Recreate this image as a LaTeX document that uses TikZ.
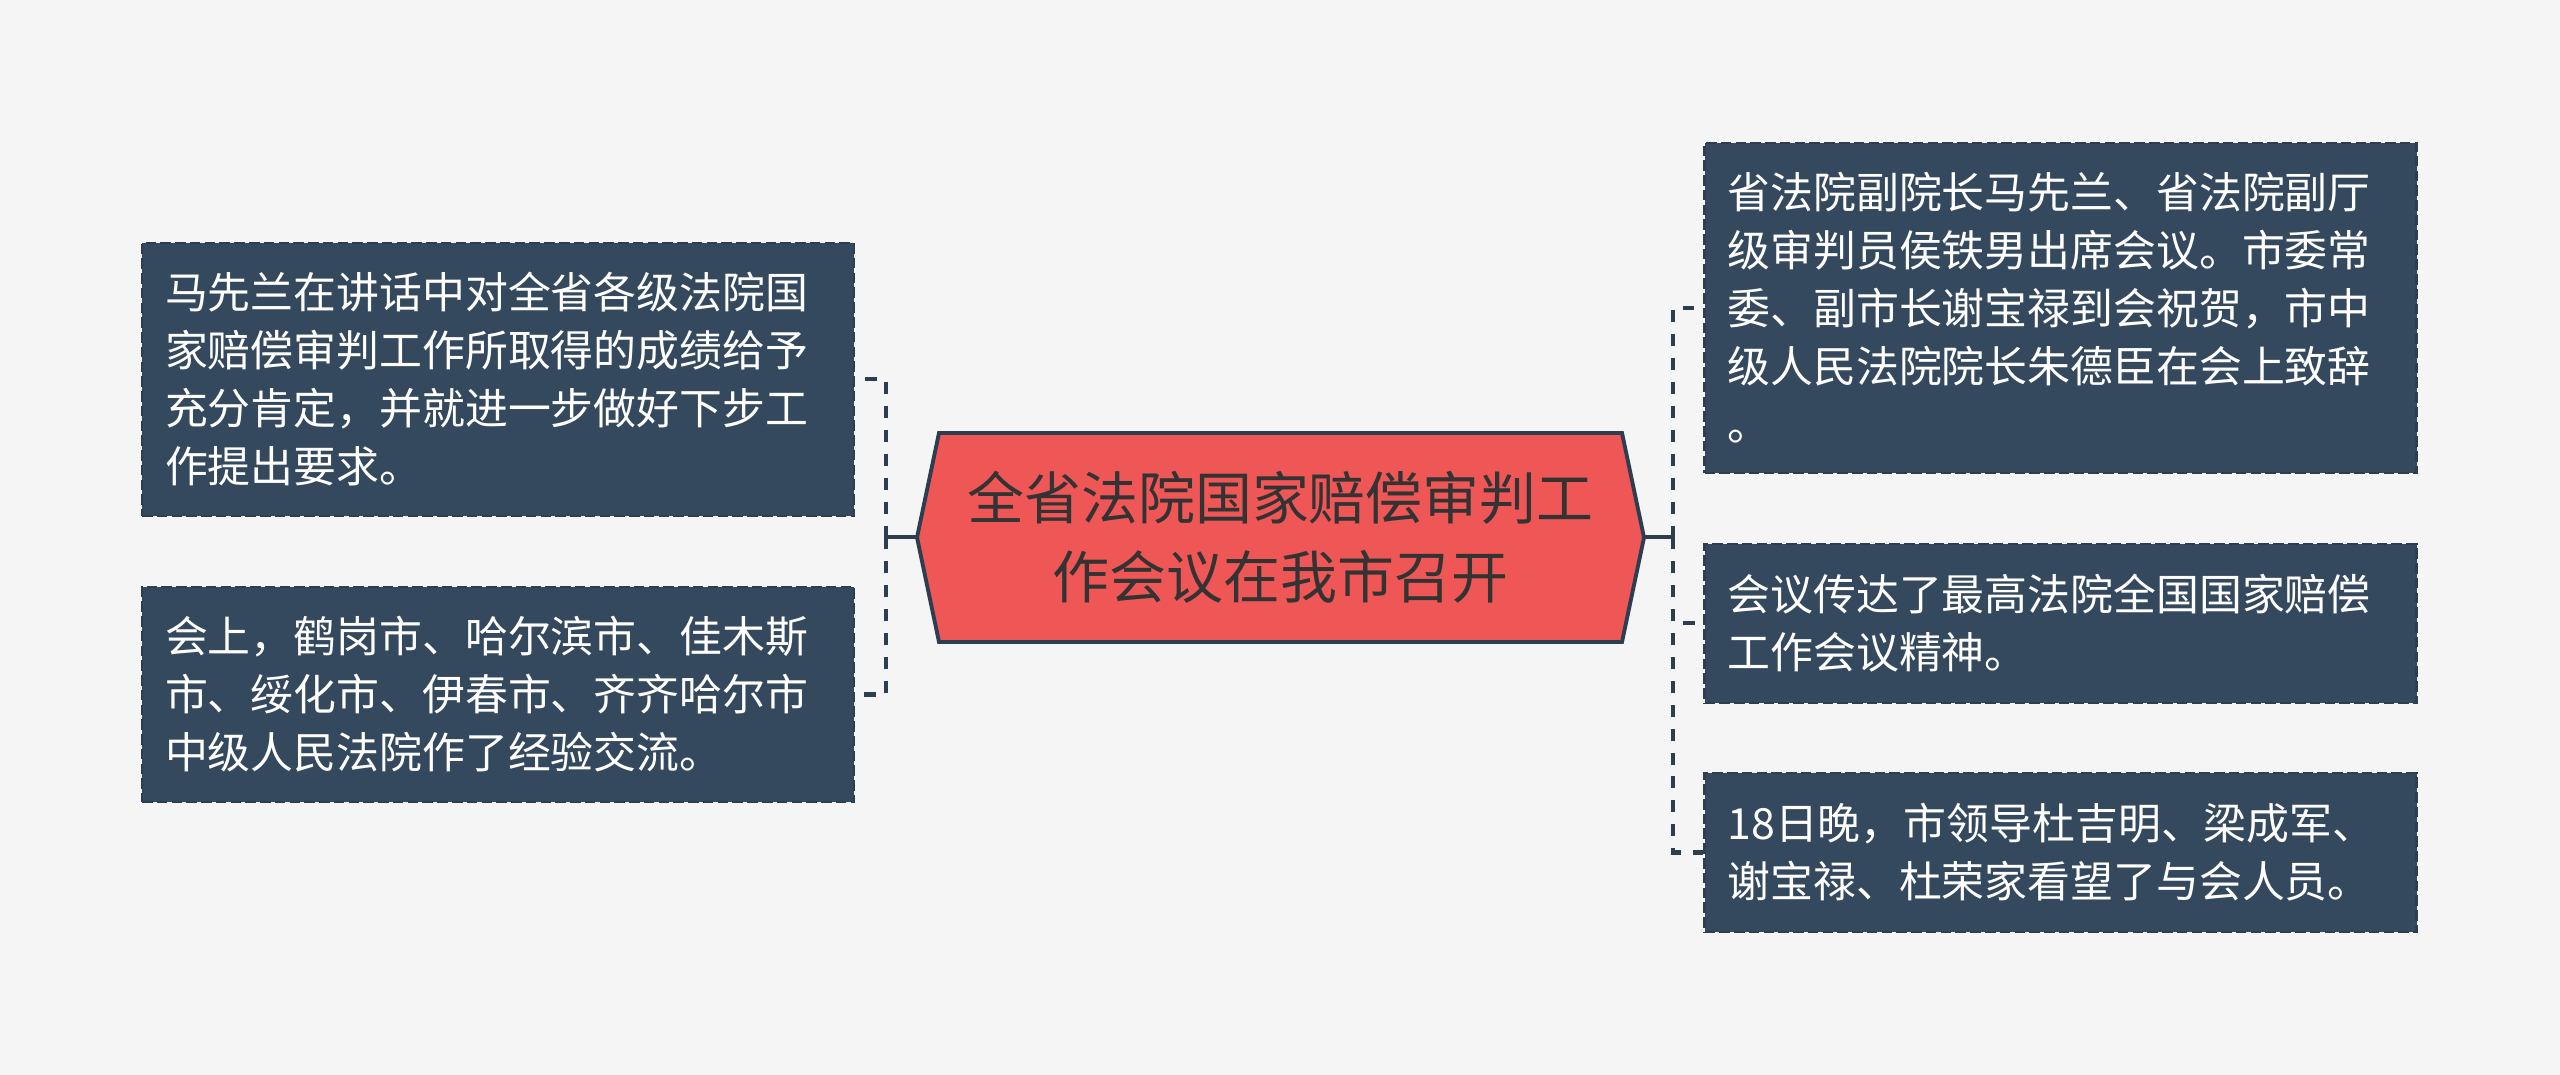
\documentclass[tikz,border=0pt]{standalone}
\usepackage{fontspec}
\newfontfamily\cjk{Noto Sans CJK SC}
\usetikzlibrary{calc}

\definecolor{paper}{HTML}{F5F5F5}
\definecolor{leafblue}{HTML}{34495E}
\definecolor{edgeblue}{HTML}{2C3E50}
\definecolor{topicred}{HTML}{EF5656}
\definecolor{topictext}{HTML}{333333}

\begin{document}
\begin{tikzpicture}[
  leaf/.style={rectangle, fill=leafblue, draw=edgeblue, line width=0.7pt,
               dash pattern=on 3pt off 1.2pt, text=white, align=left,
               text width=6.66cm, inner xsep=0.23cm, inner ysep=0pt,
               minimum width=7.12cm, font=\cjk\fontsize{12.2pt}{16.5pt}\selectfont},
  topic/.style={minimum width=7.27cm, minimum height=2.09cm, inner sep=0pt,
                align=center, text=topictext,
                font=\cjk\fontsize{16.2pt}{22.5pt}\selectfont},
  topicshape/.style={fill=topicred, draw=edgeblue, line width=1.1pt, line join=miter},
  link/.style={draw=edgeblue, line width=1.15pt},
  dashlink/.style={link, dash pattern=on 3.4pt off 3.4pt},
]
  \path[use as bounding box, fill=paper] (0,0) rectangle (25.6,10.75);

  % central topic
  \coordinate (c) at (12.805,5.375);
  \draw[topicshape, shift={(c)}] (-3.635,0) -- (-3.415,1.045) -- (3.415,1.045)
    -- (3.635,0) -- (3.415,-1.045) -- (-3.415,-1.045) -- cycle;
  \node[topic] (main) at (c) {全省法院国家赔偿审判工\\作会议在我市召开};

  % left branches
  \node[leaf, minimum height=2.73cm] (lt) at (4.98,6.955)
    {马先兰在讲话中对全省各级法院国\\家赔偿审判工作所取得的成绩给予\\充分肯定，并就进一步做好下步工\\作提出要求。};
  \node[leaf, minimum height=2.15cm] (lb) at (4.98,3.805)
    {会上，鹤岗市、哈尔滨市、佳木斯\\市、绥化市、伊春市、齐齐哈尔市\\中级人民法院作了经验交流。};

  % right branches
  \node[leaf, minimum height=3.30cm] (rt) at (20.605,7.67)
    {省法院副院长马先兰、省法院副厅\\级审判员侯铁男出席会议。市委常\\委、副市长谢宝禄到会祝贺，市中\\级人民法院院长朱德臣在会上致辞\\。};
  \node[leaf, minimum height=1.59cm] (rm) at (20.605,4.515)
    {会议传达了最高法院全国国家赔偿\\工作会议精神。};
  \node[leaf, minimum height=1.59cm] (rb) at (20.605,2.225)
    {18日晚，市领导杜吉明、梁成军、\\谢宝禄、杜荣家看望了与会人员。};

  % connectors
  \coordinate (lj) at (8.86,5.375);
  \coordinate (rj) at (16.73,5.375);
  \draw[link] (main.west) -- (lj);
  \draw[link] (main.east) -- (rj);
  \foreach \n in {lt,lb}
    \draw[dashlink] (lj) |- (\n.east);
  \foreach \n in {rt,rm,rb}
    \draw[dashlink] (rj) |- (\n.west);
\end{tikzpicture}
\end{document}
